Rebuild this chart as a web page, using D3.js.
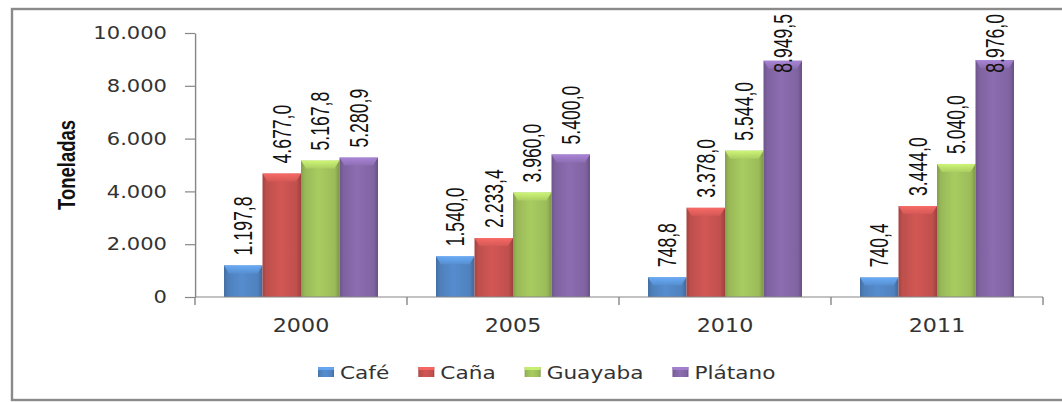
<!DOCTYPE html>
<html>
<head>
<meta charset="utf-8">
<script src="https://cdn.jsdelivr.net/npm/d3@7"></script>
<style>
  html, body { margin: 0; padding: 0; background: #fff; }
  svg { display: block; }
</style>
</head>
<body>
<svg id="chart" width="1062" height="402"></svg>
<script>
// ---- data ----
const years = ["2000", "2005", "2010", "2011"];
const series = ["Café", "Caña", "Guayaba", "Plátano"];
const cafe = [1197.8, 1540.0, 748.8, 740.4];
const cana = [4677.0, 2233.4, 3378.0, 3444.0];
const guayaba = [5167.8, 3960.0, 5544.0, 5040.0];
const platano = [5280.9, 5400.0, 8949.5, 8976.0];
const yTicks = [0, 2000, 4000, 6000, 8000, 10000];
const colors = ["#4F81BD", "#C0504D", "#9BBB59", "#8064A2"];
const yTitle = "Toneladas";

const values = [cafe, cana, guayaba, platano];
const rows = [];
years.forEach((yr, i) => series.forEach((s, j) => rows.push({ year: yr, series: s, si: j, value: values[j][i] })));

// ---- layout ----
const S = 1.17; // horizontal stretch of the whole chart
const plot = { left: 195, right: 1043, top: 33, bottom: 297 };

const loc = d3.formatLocale({ decimal: ",", thousands: ".", grouping: [3], currency: ["", ""] });
const fmtLabel = loc.format(",.1f");
const fmtTick = loc.format(",.0f");

const svg = d3.select("#chart");
const defs = svg.append("defs");

// border
svg.append("rect").attr("x", 12).attr("y", 9).attr("width", 1080).attr("height", 391)
  .attr("fill", "none").attr("stroke", "#8a8a8a").attr("stroke-width", 2.4);

const g = svg.append("g").attr("transform", `scale(${S},1)`);

const x0 = d3.scaleBand().domain(years).range([plot.left / S, plot.right / S]).paddingInner(0).paddingOuter(0);
const x1 = d3.scaleBand().domain(series).range([0, x0.bandwidth()]).paddingInner(0).paddingOuter(0.753);
const y = d3.scaleLinear().domain([0, 10000]).range([plot.bottom, plot.top]);

// gradients
colors.forEach((c, i) => {
  const base = d3.color(c);
  const gr = defs.append("linearGradient").attr("id", "bg" + i).attr("x1", 0).attr("x2", 1).attr("y1", 0).attr("y2", 0);
  gr.append("stop").attr("offset", "0%").attr("stop-color", base.darker(0.45));
  gr.append("stop").attr("offset", "10%").attr("stop-color", base.darker(0.05));
  gr.append("stop").attr("offset", "45%").attr("stop-color", base.brighter(0.25));
  gr.append("stop").attr("offset", "88%").attr("stop-color", base);
  gr.append("stop").attr("offset", "100%").attr("stop-color", base.darker(0.6));
  const cap = defs.append("linearGradient").attr("id", "cap" + i).attr("x1", 0).attr("x2", 0).attr("y1", 0).attr("y2", 1);
  cap.append("stop").attr("offset", "0%").attr("stop-color", base.brighter(0.9));
  cap.append("stop").attr("offset", "100%").attr("stop-color", base.brighter(0.3));
});

// axes
const yAxis = d3.axisLeft(y).tickValues(yTicks).tickFormat(fmtTick)
  .tickSizeInner(10 / S).tickSizeOuter(0).tickPadding(18 / S);
const ya = g.append("g").attr("transform", `translate(${plot.left / S},0)`).call(yAxis);
ya.select(".domain").attr("stroke", "#868686").attr("stroke-width", 1.2);
ya.selectAll(".tick line").attr("stroke", "#868686").attr("stroke-width", 1.2);
ya.selectAll(".tick text").attr("font-family", "DejaVu Sans, Verdana, sans-serif").attr("font-size", 18).attr("fill", "#333");

const xAxis = d3.axisBottom(x0).tickSize(0).tickPadding(22);
const xa = g.append("g").attr("transform", `translate(0,${plot.bottom})`).call(xAxis);
xa.select(".domain").remove();
xa.selectAll(".tick text").attr("font-family", "DejaVu Sans, Verdana, sans-serif").attr("font-size", 19).attr("fill", "#333");

// bars
const bars = g.append("g").selectAll("g.bar").data(rows).join("g").attr("class", "bar");
bars.append("rect")
  .attr("x", d => x0(d.year) + x1(d.series))
  .attr("y", d => y(d.value))
  .attr("width", x1.bandwidth())
  .attr("height", d => y(0) - y(d.value))
  .attr("fill", d => `url(#bg${d.si})`);
const capH = 8, capB = 5 / S;
bars.append("path")
  .attr("d", d => {
    const xa_ = x0(d.year) + x1(d.series), w = x1.bandwidth(), t = y(d.value);
    return `M${xa_},${t}L${xa_ + w},${t}L${xa_ + w - capB},${t + capH}L${xa_ + capB},${t + capH}Z`;
  })
  .attr("fill", d => `url(#cap${d.si})`).attr("opacity", 0.85);

// x axis line and boundary ticks
g.append("line").attr("x1", plot.left / S).attr("x2", plot.right / S).attr("y1", plot.bottom).attr("y2", plot.bottom)
  .attr("stroke", "#868686").attr("stroke-width", 1.2);
const bounds = years.map(d => x0(d)).concat([x0(years[years.length - 1]) + x0.bandwidth()]);
g.append("g").selectAll("line").data(bounds).join("line")
  .attr("x1", d => d).attr("x2", d => d).attr("y1", plot.bottom).attr("y2", plot.bottom + 8)
  .attr("stroke", "#868686").attr("stroke-width", 1.2);

// value labels
const narrow = 0.82;
const labels = g.append("g").selectAll("text").data(rows).join("text")
  .attr("font-family", "Liberation Sans, Arial, sans-serif")
  .attr("font-size", 21.5)
  .attr("fill", "#111")
  .attr("dy", "0.36em")
  .text(d => fmtLabel(d.value));
labels.each(function (d) {
  const len = this.getComputedTextLength() * narrow;
  const cx = x0(d.year) + x1(d.series) + x1.bandwidth() / 2;
  let yb = y(d.value) - 10;
  if (yb - len < 14) yb = 14 + len;
  d3.select(this).attr("transform", `translate(${cx},${yb}) rotate(-90) scale(${narrow},1)`);
});

// y title
g.append("text")
  .attr("transform", `translate(${66 / S},165) rotate(-90) scale(0.88,1)`)
  .attr("text-anchor", "middle").attr("dy", "0.36em")
  .attr("font-family", "Liberation Sans, Arial, sans-serif").attr("font-weight", "bold")
  .attr("font-size", 21).attr("fill", "#111")
  .text(yTitle);

// legend
const lg = g.append("g");
let lx = 318 / S;
series.forEach((s, i) => {
  const base = d3.color(colors[i]);
  lg.append("rect").attr("x", lx).attr("y", 367).attr("width", 16 / S).attr("height", 10)
    .attr("fill", `url(#bg${i})`);
  lg.append("rect").attr("x", lx).attr("y", 367).attr("width", 16 / S).attr("height", 3)
    .attr("fill", base.brighter(0.8)).attr("opacity", 0.8);
  const t = lg.append("text").attr("x", lx + 22 / S).attr("y", 372).attr("dy", "0.36em")
    .attr("font-family", "DejaVu Sans, Verdana, sans-serif").attr("font-size", 18.5).attr("fill", "#333")
    .text(s);
  lx = lx + 22 / S + t.node().getComputedTextLength() + 29 / S;
});
</script>
</body>
</html>
